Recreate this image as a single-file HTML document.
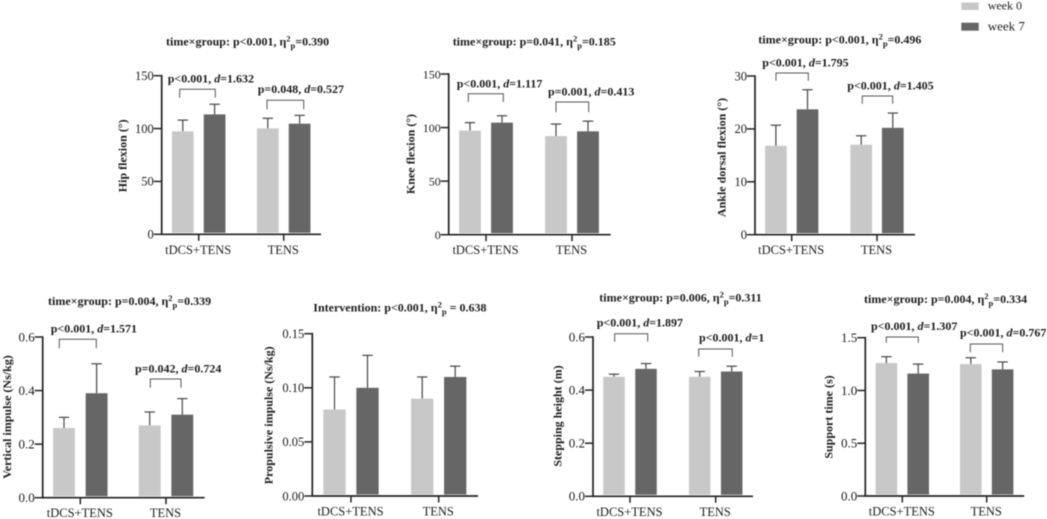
<!DOCTYPE html>
<html lang="en">
<head>
<meta charset="utf-8">
<title>Gait outcomes by group</title>
<style>
html,body{margin:0;padding:0;background:#fff;width:1047px;height:519px;overflow:hidden}
svg{display:block;filter:blur(0.4px)}
text{font-family:"Liberation Serif","DejaVu Serif",serif;fill:#1c1c1c}
</style>
</head>
<body>
<svg id="figure" xmlns="http://www.w3.org/2000/svg" width="1047" height="519" viewBox="0 0 1047 519">
  <g>
    <rect x="961.3" y="2.5" width="17.4" height="7.5" fill="#c8c8c8"/>
    <text x="987.7" y="9.5" font-size="12">week 0</text>
    <rect x="961.3" y="22.7" width="17.4" height="8" fill="#666666"/>
    <text x="987.7" y="30.3" font-size="13">week 7</text>
  </g>
</svg>
<script>
// ---- Data (one row per panel, each row = [tDCS+TENS, TENS]) ----
const categories = ["tDCS+TENS", "TENS"];
const panelNames = ["hip-flexion", "knee-flexion", "ankle-dorsal-flexion", "vertical-impulse", "propulsive-impulse", "stepping-height", "support-time"];
const yAxisTitles = ["Hip flexion (°)", "Knee flexion (°)", "Ankle dorsal flexion (°)", "Vertical impulse (Ns/kg)", "Propulsive impulse (Ns/kg)", "Stepping height (m)", "Support time (s)"];
const week0Means = [[97.4, 100.2], [97.1, 92.1], [16.8, 17], [0.26, 0.27], [0.08, 0.09], [0.45, 0.45], [1.26, 1.25]];
const week7Means = [[113.4, 104.6], [104.6, 96.5], [23.7, 20.2], [0.39, 0.31], [0.10, 0.11], [0.48, 0.47], [1.16, 1.20]];
const week0Errors = [[10.6, 9.5], [7.5, 11.2], [3.9, 1.7], [0.04, 0.05], [0.03, 0.02], [0.01, 0.02], [0.06, 0.06]];
const week7Errors = [[9.6, 7.9], [6.4, 9.5], [3.7, 2.8], [0.11, 0.06], [0.03, 0.01], [0.02, 0.02], [0.09, 0.07]];
const yTickLabels = [["0", "50", "100", "150"], ["0", "50", "100", "150"], ["0", "10", "20", "30"], ["0.0", "0.2", "0.4", "0.6"], ["0.00", "0.05", "0.10", "0.15"], ["0.0", "0.2", "0.4", "0.6"], ["0.0", "0.5", "1.0", "1.5"]];
const titlePrefixes = ["time×group: p<0.001, η", "time×group: p=0.041, η", "time×group: p<0.001, η", "time×group: p=0.004, η", "Intervention: p<0.001, η", "time×group: p=0.006, η", "time×group: p=0.004, η"];
const titleSuffixes = ["=0.390", "=0.185", "=0.496", "=0.339", " = 0.638", "=0.311", "=0.334"];
const pLabels = [["p<0.001, ", "p=0.048, "], ["p<0.001, ", "p=0.001, "], ["p<0.001, ", "p<0.001, "], ["p<0.001, ", "p=0.042, "], [], ["p<0.001, ", "p<0.001, "], ["p<0.001, ", "p<0.001, "]];
const dLabels = [["=1.632", "=0.527"], ["=1.117", "=0.413"], ["=1.795", "=1.405"], ["=1.571", "=0.724"], [], ["=1.897", "=1"], ["=1.307", "=0.767"]];

// ---- Layout (pixels; separate from the data) ----
const axisLayouts = [
  {x: 161.7, top: 75.7, bottom: 234.3, end: 321, first: 37, step: 85, bw: 21.7, off: 15.9, tickFont: 12.5},
  {x: 448.7, top: 74, bottom: 234.7, end: 610.7, first: 37.3, step: 86, bw: 21.8, off: 16, tickFont: 12},
  {x: 755, top: 76, bottom: 234.7, end: 915, first: 36.7, step: 85.3, bw: 21.7, off: 15.8, tickFont: 12.5},
  {x: 42.7, top: 337, bottom: 497.7, end: 204.7, first: 37.6, step: 85.7, bw: 21.9, off: 16.3, tickFont: 13},
  {x: 312.3, top: 333.7, bottom: 496, end: 478, first: 38.7, step: 87.7, bw: 22.3, off: 16.5, tickFont: 12.5},
  {x: 593, top: 337, bottom: 496.3, end: 753, first: 37, step: 85.7, bw: 21.5, off: 16, tickFont: 13},
  {x: 865.3, top: 337.7, bottom: 496, end: 1024.3, first: 37, step: 84.4, bw: 21.6, off: 15.9, tickFont: 13}
];
const yTitleLayouts = [[126.7, 155.8], [414.3, 154], [725.7, 157.5], [11, 417], [272.3, 415.3], [561.7, 416], [832.3, 417]];
const titleLayouts = [[166, 45.7], [452.7, 45.7], [758.3, 43.7], [48, 305], [313.3, 311.7], [599.3, 301.7], [864, 303]];
const pLabelLayouts = [
  [[167.7, 82.3], [257.7, 93]], [[456.7, 87.3], [548, 95.7]], [[762.3, 66.3], [847.3, 89.3]],
  [[50.7, 332.7], [135, 372.7]], [], [[596.7, 326.7], [699, 341.7]], [[871, 330], [960, 336.7]]
];
const bracketLayouts = [
  [[179.7, 215.3, 89.3, 97.7], [267, 303.7, 100.3, 109.3]], [[468.3, 503.3, 93.7, 102], [556, 588.7, 102, 112.3]],
  [[776, 808.3, 73, 80.7], [862.3, 892.7, 96, 103.7]], [[59.3, 96.3, 339.3, 348.3], [150.3, 181, 379, 387.7]], [],
  [[614.7, 647.7, 333.7, 341.7], [698.7, 732.3, 349, 356.7]], [[886.3, 918.3, 337, 342.7], [970.3, 1002.7, 344, 352.3]]
];

const NS = "http://www.w3.org/2000/svg";
const fig = document.getElementById("figure");
function make(tag, attrs, parent) {
  const el = document.createElementNS(NS, tag);
  for (const k in attrs) el.setAttribute(k, attrs[k]);
  parent.appendChild(el);
  return el;
}
function span(parent, str, attrs) {
  const t = make("tspan", attrs || {}, parent);
  t.textContent = str;
  return t;
}

panelNames.forEach(function (name, p) {
  const a = axisLayouts[p];
  const ticks = yTickLabels[p];
  const yMax = parseFloat(ticks[ticks.length - 1]);
  const yScale = function (v) { return a.bottom - (v / yMax) * (a.bottom - a.top); };
  const xScale = function (i) { return a.x + a.first + i * a.step; };

  const g = make("g", {}, fig);
  
  

  // panel title
  const title = make("text", {x: titleLayouts[p][0], y: titleLayouts[p][1], "font-size": 12, "font-weight": "bold"}, g);
  
  
  span(title, titlePrefixes[p]);
  span(title, "2", {dy: -4, "font-size": 8.5});
  span(title, "p", {dy: 7, "font-size": 8.5});
  span(title, titleSuffixes[p], {dy: -3});

  // bars and error bars
  [[week0Means, week0Errors, "#c8c8c8", -1, "week-0"], [week7Means, week7Errors, "#666666", 1, "week-7"]].forEach(function (s) {
    categories.forEach(function (cat, i) {
      const cx = xScale(i) + s[3] * a.off;
      const mean = s[0][p][i];
      const top = yScale(mean);
      const errTop = yScale(mean + s[1][p][i]);
      const stem = make("line", {x1: cx, x2: cx, y1: top, y2: errTop, stroke: "#454545", "stroke-width": 1.2}, g);
      
      
      const cap = make("line", {x1: cx - 5.2, x2: cx + 5.2, y1: errTop, y2: errTop, stroke: "#454545", "stroke-width": 1.2}, g);
      
      
      const bar = make("rect", {x: cx - a.bw / 2, y: top, width: a.bw, height: Math.max(0, a.bottom - 1.5 - top), fill: s[2]}, g);
      
      
    });
  });

  // y axis
  const yAxis = make("line", {x1: a.x, x2: a.x, y1: a.top - 0.8, y2: a.bottom + 0.8, stroke: "#222", "stroke-width": 1.7}, g);
  
  
  ticks.forEach(function (label) {
    const y = yScale(parseFloat(label));
    const tick = make("line", {x1: a.x - 8, x2: a.x, y1: y, y2: y, stroke: "#222", "stroke-width": 1.5}, g);
    
    
    const txt = make("text", {x: a.x - 8, y: y + 4.3, "font-size": a.tickFont, "text-anchor": "end"}, g);
    
    
    txt.textContent = label;
  });
  const yt = yTitleLayouts[p];
  const yTitle = make("text", {x: 0, y: 0, "font-size": 12, "font-weight": "bold", "text-anchor": "middle", transform: "translate(" + yt[0] + " " + yt[1] + ") rotate(-90)"}, g);
  
  
  yTitle.textContent = yAxisTitles[p];

  // x axis
  const xAxis = make("line", {x1: a.x, x2: a.end, y1: a.bottom, y2: a.bottom, stroke: "#222", "stroke-width": 1.7}, g);
  
  
  categories.forEach(function (cat, i) {
    const tx = xScale(i);
    const tick = make("line", {x1: tx, x2: tx, y1: a.bottom, y2: a.bottom + 6.5, stroke: "#222", "stroke-width": 1.5}, g);
    
    
    const txt = make("text", {x: tx - 0.5, y: a.bottom + 19.5, "font-size": 12.5, "text-anchor": "middle"}, g);
    
    
    txt.textContent = cat;
  });

  // significance brackets and labels
  pLabels[p].forEach(function (pText, i) {
    const b = bracketLayouts[p][i];
    const bracket = make("path", {d: "M" + b[0] + " " + b[3] + "V" + b[2] + "H" + b[1] + "V" + b[3], fill: "none", stroke: "#555", "stroke-width": 1}, g);
    
    
    const pos = pLabelLayouts[p][i];
    const label = make("text", {x: pos[0], y: pos[1], "font-size": 12, "font-weight": "bold"}, g);
    
    
    span(label, pText);
    span(label, "d", {"font-style": "italic"});
    span(label, dLabels[p][i]);
  });
});
</script>
</body>
</html>
